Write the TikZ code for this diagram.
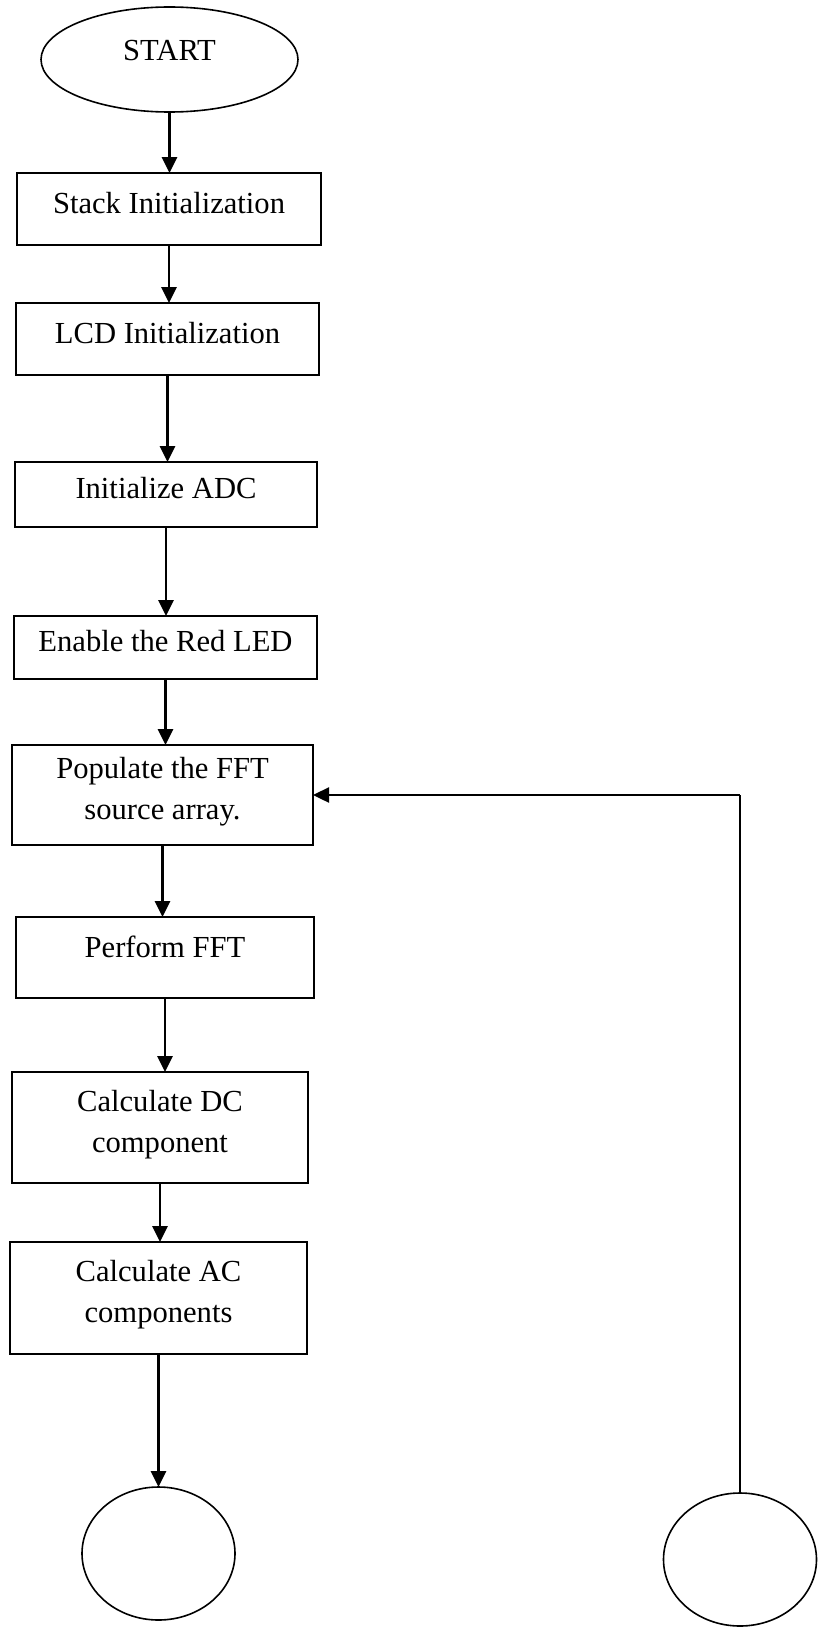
\documentclass[tikz,border=0pt]{standalone}
\usepackage{fontspec}
\setmainfont{Liberation Serif}
\usetikzlibrary{positioning, arrows.meta, shapes.geometric}

\begin{document}
\begin{tikzpicture}[x=1pt,y=1pt]
    % Stili per i blocchi del diagramma
    \tikzset{
        flow_box/.style={
            draw=black, % Bordo visibile
            line width=2pt,
            rectangle,
            align=center, % Testo centrato
            font=\fontsize{30.6}{41}\selectfont,
            text depth=13pt, % Testo un po' in alto
            inner sep=0pt,
            outer sep=0pt
        },
        flow_start/.style={
            draw=black,
            line width=1.6pt,
            ellipse,
            font=\fontsize{30.6}{41}\selectfont,
            text depth=18pt,
            minimum width=257pt,
            minimum height=105pt,
            inner sep=0pt,
            outer sep=0pt
        },
        flow_connector/.style={
            draw=black,
            line width=1.6pt,
            ellipse,
            minimum width=153pt,
            minimum height=133pt,
            inner sep=0pt,
            outer sep=0pt
        },
        flow_arrow/.style={
            line width=2.8pt,
            -{Triangle[length=16pt,width=15pt]}
        },
        thin_line/.style={
            line width=1.4pt
        }
    }

    \useasboundingbox (0,0) rectangle (826,-1627);

    % Inizio
    \node[flow_start] (start) at (169.5,-59.5) {START};

    % Blocchi
    \node[flow_box, minimum width=304pt, minimum height=72pt] (box_stack) at (169,-209) {Stack Initialization};
    \node[flow_box, minimum width=303pt, minimum height=72pt] (box_lcd) at (167.5,-339) {LCD Initialization};
    \node[flow_box, minimum width=302pt, minimum height=65pt] (box_adc) at (166,-494.5) {Initialize ADC};
    \node[flow_box, minimum width=303pt, minimum height=63pt] (box_led) at (165.5,-647.5) {Enable the Red LED};
    \node[flow_box, minimum width=301pt, minimum height=100pt] (box_populate) at (162.5,-795) {Populate the FFT\\source array.};
    \node[flow_box, minimum width=298pt, minimum height=81pt, text depth=22pt] (box_fft) at (165,-957.5) {Perform FFT};
    \node[flow_box, minimum width=296pt, minimum height=111pt] (box_dc) at (160,-1127.5) {Calculate DC\\component};
    \node[flow_box, minimum width=297pt, minimum height=112pt] (box_ac) at (158.5,-1298) {Calculate AC\\components};

    % Connettori
    \node[flow_connector] (conn_out) at (158.5,-1553.5) {};
    \node[flow_connector] (conn_in) at (740,-1559.5) {};

    % Frecce verso il basso
    \draw[flow_arrow] (start.south) -- (start.south |- box_stack.north);
    \draw[flow_arrow] (box_stack.south) -- (box_stack.south |- box_lcd.north);
    \draw[flow_arrow] (box_lcd.south) -- (box_lcd.south |- box_adc.north);
    \draw[flow_arrow] (box_adc.south) -- (box_adc.south |- box_led.north);
    \draw[flow_arrow] (box_led.south) -- (box_led.south |- box_populate.north);
    \draw[flow_arrow] (box_populate.south) -- (box_populate.south |- box_fft.north);
    \draw[flow_arrow] (box_fft.south) -- (box_fft.south |- box_dc.north);
    \draw[flow_arrow] (box_dc.south) -- (box_dc.south |- box_ac.north);
    \draw[flow_arrow] (box_ac.south) -- (box_ac.south |- conn_out.north);

    % Ritorno al blocco di popolamento
    \coordinate (loop_corner) at (conn_in.north |- box_populate.east);
    \draw[thin_line] (conn_in.north) -- (loop_corner);
    \draw[flow_arrow, line width=2.4pt] (loop_corner) -- (box_populate.east);

\end{tikzpicture}
\end{document}
